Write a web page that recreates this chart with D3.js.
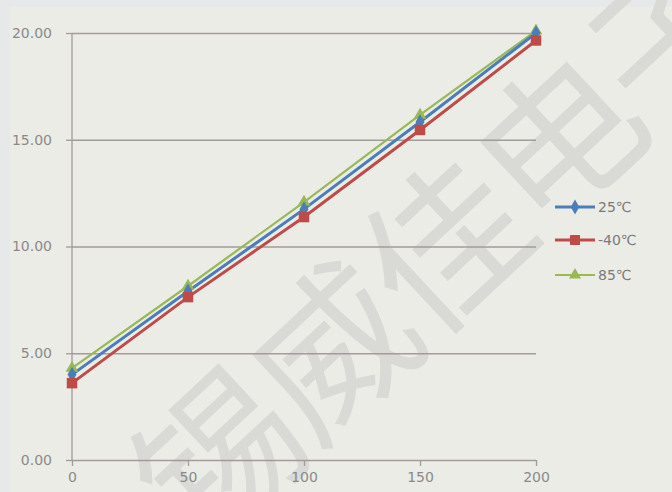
<!DOCTYPE html>
<html>
<head>
<meta charset="utf-8">
<script src="https://cdn.jsdelivr.net/npm/d3@7"></script>
<style>
  html, body { margin: 0; padding: 0; background: #e6e8ea; }
  svg { display: block; }
</style>
</head>
<body>
<svg id="chart" width="672" height="492"></svg>
<script>
// chart data
const xValues = [0, 50, 100, 150, 200];
const seriesNames = ["25\u2103", "-40\u2103", "85\u2103"];
const values25 = [4.0, 7.9, 11.75, 15.83, 20.0];
const valuesM40 = [3.6, 7.63, 11.38, 15.46, 19.65];
const values85 = [4.3, 8.15, 12.08, 16.16, 20.1];
const yTicks = [0, 5, 10, 15, 20];
const watermarkChars = ["锡", "威", "佳", "电", "子"];

const width = 672, height = 492;
const colors = ["#4a7ebb", "#be4b48", "#98b954"];
const symbols = [d3.symbolDiamond, d3.symbolSquare, d3.symbolTriangle];
const series = [values25, valuesM40, values85];

const svg = d3.select("#chart");

// background panel
svg.append("rect")
  .attr("x", 10).attr("y", 7)
  .attr("width", width - 10).attr("height", height - 7)
  .attr("fill", "#ecece7");

// watermark, one glyph per text so they can be placed along the diagonal
const wm = svg.append("g")
  .attr("transform", "translate(230,468) rotate(-43)");
wm.selectAll("text")
  .data(watermarkChars)
  .enter().append("text")
  .attr("x", (d, i) => i * 155)
  .attr("font-family", "Noto Sans CJK SC")
  .attr("font-weight", 400)
  .attr("font-size", 160)
  .attr("fill", "#d9d9d6")
  .attr("dominant-baseline", "middle")
  .attr("text-anchor", "middle")
  .text(d => d);

let x = d3.scaleLinear().domain([0, 200]).range([72, 536]);
let y = d3.scaleLinear().domain([0, 20]).range([460, 33]);

// horizontal grid
svg.append("g")
  .attr("transform", "translate(72,0)")
  .call(d3.axisLeft(y).tickValues(yTicks).tickSize(-(536 - 72)).tickFormat(""))
  .call(g => g.select(".domain").remove())
  .call(g => g.selectAll("line").attr("stroke", "#a39a9a").attr("stroke-width", 1.3));

// y axis
let yAxis = svg.append("g")
  .attr("transform", "translate(72,0)")
  .call(d3.axisLeft(y).tickValues(yTicks).tickSize(6).tickSizeOuter(0).tickPadding(14)
    .tickFormat(d3.format(".2f")));
yAxis.select(".domain").attr("stroke", "#a39a9a").attr("stroke-width", 1.3)
  .attr("d", "M0,460V33");
yAxis.selectAll("line").attr("stroke", "#a39a9a").attr("stroke-width", 1.3);
yAxis.selectAll("text")
  .attr("fill", "#8a8a8a")
  .attr("font-family", "DejaVu Sans")
  .attr("font-size", 14);

// x axis
let xAxis = svg.append("g")
  .attr("transform", "translate(0,460)")
  .call(d3.axisBottom(x).tickValues(xValues).tickSize(6).tickSizeOuter(0).tickPadding(6)
    .tickFormat(d3.format("d")));
xAxis.select(".domain").remove();
xAxis.selectAll("line").attr("stroke", "#a39a9a").attr("stroke-width", 1.3);
xAxis.selectAll("text")
  .attr("fill", "#8a8a8a")
  .attr("font-family", "DejaVu Sans")
  .attr("font-size", 14);

let line = d3.line()
  .x((d, i) => x(xValues[i]))
  .y(d => y(d));

// lines, green drawn first so blue/red sit on top
const order = [2, 0, 1];
order.forEach(k => {
  svg.append("path")
    .datum(series[k])
    .attr("d", line)
    .attr("fill", "none")
    .attr("stroke", colors[k])
    .attr("stroke-width", k === 2 ? 2.2 : 3);
});

const symSizes = [70, 110, 70];
order.forEach(k => {
  svg.append("g").selectAll("path")
    .data(series[k])
    .enter().append("path")
    .attr("transform", (d, i) => "translate(" + x(xValues[i]) + "," + y(d) + ")")
    .attr("d", d3.symbol().type(symbols[k]).size(symSizes[k]))
    .attr("fill", colors[k]);
});

// legend
const legendY = [207, 240, 275];
seriesNames.forEach((name, k) => {
  let g = svg.append("g").attr("transform", "translate(555," + legendY[k] + ")");
  g.append("line")
    .attr("x1", 0).attr("x2", 40)
    .attr("stroke", colors[k])
    .attr("stroke-width", k === 2 ? 2 : 3);
  g.append("path")
    .attr("transform", "translate(20,0)")
    .attr("d", d3.symbol().type(symbols[k]).size(symSizes[k] * 0.9))
    .attr("fill", colors[k]);
  g.append("text")
    .attr("x", 43)
    .attr("dy", "0.35em")
    .attr("fill", "#7a7a7a")
    .attr("font-family", "DejaVu Sans")
    .attr("font-size", 14)
    .text(name);
});
</script>
</body>
</html>
